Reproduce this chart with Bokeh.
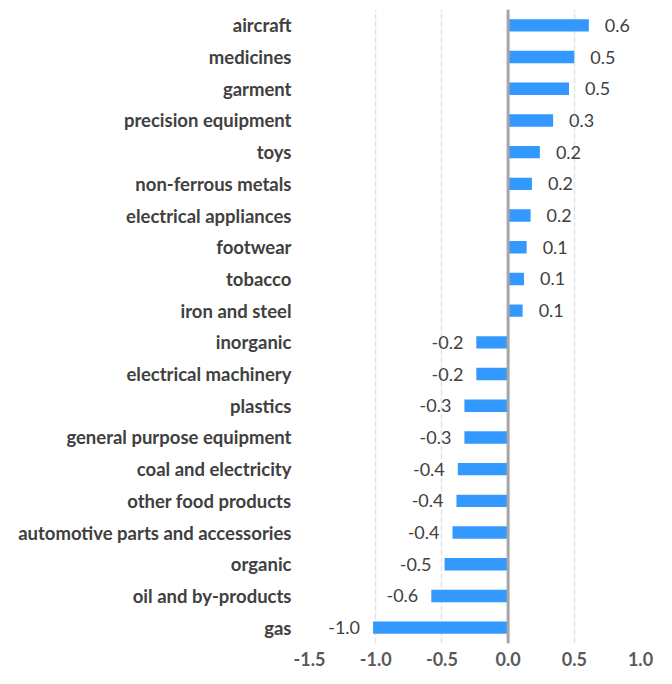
from bokeh.plotting import figure
from bokeh.models import ColumnDataSource, FactorRange, Span, FixedTicker, CustomJSTickFormatter
from bokeh.core.properties import value
from bokeh.embed import file_html
from bokeh.resources import INLINE

categories = ["aircraft", "medicines", "garment", "precision equipment", "toys",
              "non-ferrous metals", "electrical appliances", "footwear", "tobacco",
              "iron and steel", "inorganic", "electrical machinery", "plastics",
              "general purpose equipment", "coal and electricity", "other food products",
              "automotive parts and accessories", "organic", "oil and by-products", "gas"]
values = [0.61, 0.50, 0.46, 0.34, 0.24, 0.18, 0.17, 0.14, 0.12, 0.11,
          -0.24, -0.24, -0.33, -0.33, -0.38, -0.39, -0.42, -0.48, -0.58, -1.02]
x_ticks = [-1.5, -1.0, -0.5, 0.0, 0.5, 1.0]

labels = [f"{v:.1f}" for v in values]
offsets = [16 if v >= 0 else -13 for v in values]
aligns = ["left" if v >= 0 else "right" for v in values]

src = ColumnDataSource(dict(cat=categories, val=values, lab=labels, off=offsets, al=aligns))

p = figure(width=656, height=668, output_backend="svg", toolbar_location=None,
           y_range=FactorRange(*list(reversed(categories))),
           x_range=(-1.5, 1.0),
           min_border_left=309, min_border_right=16, min_border_top=9, min_border_bottom=0)
p.outline_line_color = None
p.background_fill_color = "white"

p.hbar(y="cat", left=0, right="val", height=0.39, source=src,
       fill_color="#3399ff", line_color=None)

p.add_layout(Span(location=0, dimension="height", line_color="#a6a6a6", line_width=3))

p.text(x="val", y="cat", text="lab", x_offset="off", text_align="al", source=src,
       text_baseline="middle", text_font=value("Lato"), text_font_size="18px",
       text_color="#404040")

p.xaxis.ticker = FixedTicker(ticks=x_ticks)
p.xaxis.formatter = CustomJSTickFormatter(code="return tick.toFixed(1);")
p.xaxis.axis_line_color = None
p.xaxis.major_tick_line_color = None
p.xaxis.minor_tick_line_color = None
p.xaxis.major_tick_out = 0
p.xaxis.major_tick_in = 0
p.xaxis.major_label_text_font = "Lato"
p.xaxis.major_label_text_font_style = "bold"
p.xaxis.major_label_text_font_size = "18px"
p.xaxis.major_label_text_color = "#595959"
p.xaxis.major_label_standoff = 8

p.yaxis.axis_line_color = None
p.yaxis.major_tick_line_color = None
p.yaxis.minor_tick_line_color = None
p.yaxis.major_tick_out = 0
p.yaxis.major_tick_in = 0
p.yaxis.major_label_text_font = "Lato"
p.yaxis.major_label_text_font_style = "bold"
p.yaxis.major_label_text_font_size = "18.5px"
p.yaxis.major_label_text_color = "#404040"
p.yaxis.major_label_standoff = 18

p.xgrid.grid_line_color = "#e3e3e3"
p.xgrid.grid_line_dash = "6 2"
p.xgrid.grid_line_width = 1.5
p.ygrid.grid_line_color = None

open("out.html", "w").write(file_html(p, INLINE))
